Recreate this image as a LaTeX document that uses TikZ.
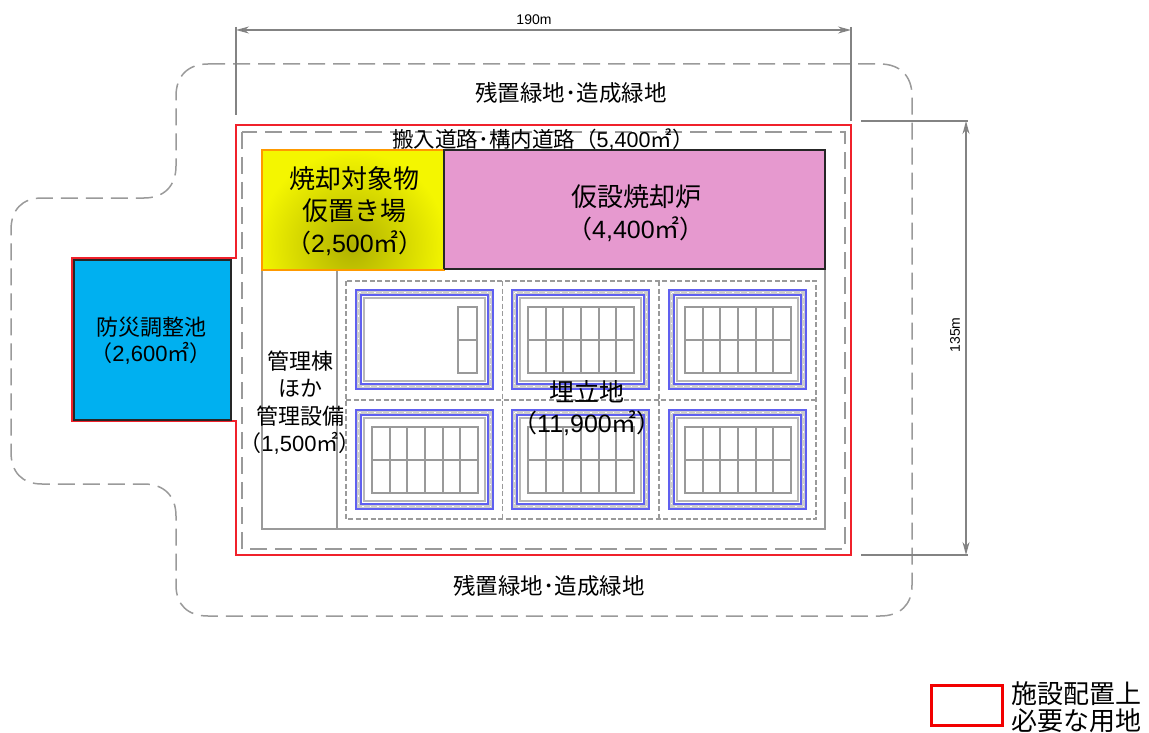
\documentclass[tikz,border=0pt]{standalone}
\usepackage{fontspec}
\setmainfont{Liberation Sans}
\newfontfamily\jp{Noto Sans CJK JP}
\usetikzlibrary{arrows.meta}
\newcommand{\J}[1]{{\jp #1}}
\definecolor{rline}{HTML}{F0212B}
\definecolor{gline}{HTML}{9A9A9A}
\definecolor{bline}{HTML}{6060F0}
\definecolor{pondc}{HTML}{00B0F0}
\definecolor{pinkc}{HTML}{E699CF}
\definecolor{yelc}{HTML}{F4F600}
\tikzset{
 x=1pt,y=-1pt,
 dashouter/.style={draw=gline,line width=1.5pt,dash pattern=on 17pt off 8pt},
 dashinner/.style={draw=gline,line width=1.5pt,dash pattern=on 17pt off 8pt},
 dimline/.style={draw=gline!85!black,line width=1.3pt},
 dimarrow/.style={draw=gline!85!black,line width=1.3pt,{Stealth[length=13pt,width=7pt,fill=gline!60!black]}-{Stealth[length=13pt,width=7pt,fill=gline!60!black]}},
 lab/.style={inner sep=0pt,align=center,text=black},
 griddash/.style={draw=gline,line width=1.1pt,dash pattern=on 5pt off 2.5pt},
 gridline/.style={draw=gline,line width=2pt},
}
% #1 left of outer blue frame, #2 top
\newcommand{\basin}[2]{%
 \begin{scope}[shift={(#1,#2)}]
  \draw[draw=gline!50,line width=3pt] (2.5,2.5) rectangle (134.5,96.5);
  \draw[white,line width=1pt,dash pattern=on 1.5pt off 6pt] (2.5,2.5) rectangle (134.5,96.5);
  \draw[bline,line width=1.1pt] (0,0) rectangle (137,99);
  \draw[bline,line width=1.2pt] (5,5) rectangle (132,94);
  \draw[gline!70,line width=2.4pt] (8,8) rectangle (129,91);
 \end{scope}}
\newcommand{\cellgrid}[2]{%
 \begin{scope}[shift={(#1,#2)}]
  \draw[gridline] (16,17) rectangle (122,83);
  \draw[gridline] (16,50) -- (122,50);
  \foreach \i in {1,...,5}{\draw[gridline] ({16+\i*106/6},17) -- ({16+\i*106/6},83);}
 \end{scope}}
\begin{document}
\begin{tikzpicture}
\useasboundingbox (0,0) rectangle (1149,733);
% outer boundary
\draw[dashouter] (208,64) -- (880,64) .. controls (900,64) and (912,76) .. (912,96)
 -- (912,585) .. controls (912,605) and (900,616) .. (880,616)
 -- (208,616) .. controls (188,616) and (176,605) .. (176,585)
 -- (176,516) .. controls (176,496) and (164,484) .. (144,484)
 -- (42,484) .. controls (22,484) and (11,472) .. (11,452)
 -- (11,230) .. controls (11,210) and (22,198) .. (42,198)
 -- (144,198) .. controls (164,198) and (176,186) .. (176,166)
 -- (176,96) .. controls (176,76) and (188,64) .. (208,64) -- cycle;
% dimensions
\coordinate (dl) at (236,30); \coordinate (dr) at (851,30);
\coordinate (dt) at (966,121); \coordinate (db) at (966,555);
\draw[dimline] (236,27) -- (236,115);
\draw[dimline] (851,27) -- (851,121);
\draw[dimline] (861,121) -- (968,121);
\draw[dimline] (861,555) -- (968,555);
\draw[dimarrow] (dl) -- (dr);
\draw[dimarrow] (dt) -- (db);
\node[lab,font=\fontsize{14}{14}\selectfont] (w190) at (534,20) {190m};
\node[lab,font=\fontsize{14}{14}\selectfont,rotate=90] (h135) at (955,335) {135m};
% inner dashed road line and frame
\draw[dashinner] (242,132) rectangle (845,549);
\draw[draw=gline,line width=1.1pt] (262,150) rectangle (825,529);
\draw[draw=gline,line width=1.1pt] (337,270) -- (337,529);
% yellow area
\fill[yelc] (262,150) rectangle (444,270);
\begin{scope}
 \clip (262,150) rectangle (444,270);
 \shade[inner color=yelc!72!black,outer color=yelc] (352,246) circle (95);
\end{scope}
\draw[draw=orange!80!yellow,line width=1.6pt] (262,150) rectangle (444,270);
% pink area
\draw[fill=pinkc,draw=black!85,line width=1.4pt] (444,150) rectangle (825,269);
\draw[draw=orange!80!yellow,line width=1.6pt] (262,270) -- (444,270);
% pond
\draw[rline,line width=1.6pt] (236,258) -- (236,125) -- (851,125) -- (851,555) -- (236,555) -- (236,421) -- (72,421) -- (72,258) -- cycle;
\draw[fill=pondc,draw=black!85,line width=1.2pt] (74,260) rectangle (231,420);
% grid frame
\draw[griddash] (346,281) rectangle (816,519);
\draw[griddash] (502.5,281) -- (502.5,519);
\draw[griddash] (659,281) -- (659,519);
\draw[griddash] (346,400) -- (816,400);
% basins
\basin{356}{290}\basin{512}{290}\basin{669}{290}
\basin{356}{410}\basin{512}{410}\basin{669}{410}
\cellgrid{512}{290}\cellgrid{669}{290}
\cellgrid{356}{410}\cellgrid{512}{410}\cellgrid{669}{410}
\draw[gridline] (458,307) rectangle (477,373);
\draw[gridline] (458,340) -- (477,340);
% texts
\node[lab,font=\fontsize{22.5}{22.5}\selectfont\jp] (t1) at (571,93) {残置緑地･造成緑地};
\node[lab,font=\fontsize{22.5}{22.5}\selectfont\jp] (t2) at (549,586) {残置緑地･造成緑地};
\node[lab,font=\fontsize{21.5}{21.5}\selectfont] (t3) at (543,140) {\J{搬入道路･構内道路（}5,400\J{㎡）}};
\node[lab,font=\fontsize{26}{26}\selectfont\jp] (t4) at (354,179) {焼却対象物};
\node[lab,font=\fontsize{26}{26}\selectfont\jp] (t5) at (354,211) {仮置き場};
\node[lab,font=\fontsize{25}{25}\selectfont] (t6) at (355,243) {\J{（}2,500\J{㎡）}};
\node[lab,font=\fontsize{26}{26}\selectfont\jp] (t7) at (636,197) {仮設焼却炉};
\node[lab,font=\fontsize{25}{25}\selectfont] (t8) at (636,229) {\J{（}4,400\J{㎡）}};
\node[lab,font=\fontsize{22}{22}\selectfont\jp] (t9) at (151,327) {防災調整池};
\node[lab,font=\fontsize{22}{22}\selectfont] (t10) at (151,353) {\J{（}2,600\J{㎡）}};
\node[lab,font=\fontsize{22}{22}\selectfont\jp] (t11) at (300,361) {管理棟};
\node[lab,font=\fontsize{22}{22}\selectfont\jp] (t12) at (300,388) {ほか};
\node[lab,font=\fontsize{22}{22}\selectfont\jp] (t13) at (300,416) {管理設備};
\node[lab,font=\fontsize{22}{22}\selectfont] (t14) at (300,443) {\J{（}1,500\J{㎡）}};
\node[lab,font=\fontsize{25}{25}\selectfont\jp] (t15) at (587,392) {埋立地};
\node[lab,font=\fontsize{25}{25}\selectfont] (t16) at (587,423) {\J{（}11,900\J{㎡）}};
% legend
\draw[draw=red!95!black,line width=3pt] (931,685) rectangle (1002,725);
\node[lab,font=\fontsize{26}{26}\selectfont\jp] (t17) at (1076,694) {施設配置上};
\node[lab,font=\fontsize{26}{26}\selectfont\jp] (t18) at (1076,721) {必要な用地};
\end{tikzpicture}
\end{document}
